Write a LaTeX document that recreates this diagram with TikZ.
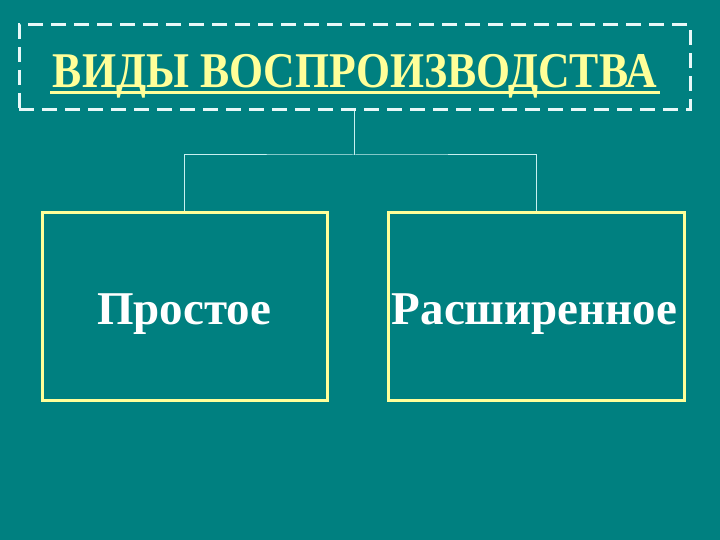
\documentclass[tikz,border=0pt]{standalone}
\usepackage{fontspec}
\setmainfont{Liberation Serif}
\definecolor{bg}{HTML}{008080}
\definecolor{yel}{HTML}{FFFF99}
\definecolor{dash}{HTML}{E8F8F8}
\definecolor{conn}{HTML}{C8F0F0}
\tikzset{
  kindbox/.style={draw=yel, line width=3pt, minimum height=187pt, inner sep=0pt},
  kindtext/.style={text=white, font=\fontsize{47}{56}\selectfont\bfseries, anchor=base, inner sep=0pt},
  conline/.style={draw=conn, line width=1pt},
}
\begin{document}
\begin{tikzpicture}[x=1pt,y=-1pt]
\fill[bg] (0,0) rectangle (720,540);
\useasboundingbox (0,0) rectangle (720,540);
\node[draw=dash, line width=3pt, dash pattern=on 15pt off 8pt, minimum width=671pt, minimum height=85pt, inner sep=0pt] (title) at (354.5,67.5) {};
\node[text=yel, font=\fontsize{50}{56}\selectfont\bfseries, xscale=0.875, anchor=base, inner sep=0pt] (tt) at (355,88) {ВИДЫ ВОСПРОИЗВОДСТВА};
\draw[yel, line width=3pt] (50,93) -- (660,93);
\node[kindbox, minimum width=285pt] (simple) at (184.5,306.5) {};
\node[kindbox, minimum width=296pt] (ext) at (536,306.5) {};
\node[kindtext] (simpletext) at (184,324) {Простое};
\node[kindtext] (exttext) at (534.5,324) {Расширенное};
\coordinate (j) at (354,155);
\draw[conline] (title.south -| j) -- (j);
\draw[conline] (simple.north) |- (j) -| (ext.north);
\end{tikzpicture}
\end{document}
